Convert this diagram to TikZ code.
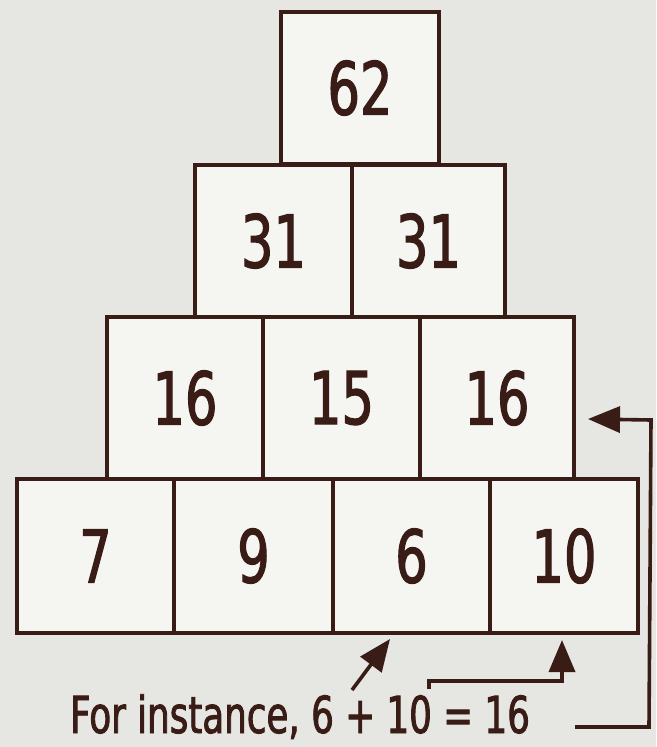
\documentclass[tikz,border=0pt]{standalone}
\usepackage{fontspec}
\setmainfont[FakeStretch=0.70,FakeBold=1.6]{DejaVu Sans}
\usetikzlibrary{arrows.meta}
\definecolor{ink}{HTML}{3A1C17}
\definecolor{paper}{HTML}{E6E6E2}
\definecolor{boxfill}{HTML}{F5F5F2}
\begin{document}
\begin{tikzpicture}[x=1pt,y=-1pt,
  cell/.style 2 args={draw=ink, fill=boxfill, line width=3.6pt, outer sep=0pt,
    minimum width=#1pt, minimum height=#2pt, inner sep=0pt, text=ink,
    font=\fontsize{73}{73}\selectfont},
  conn/.style={draw=ink, line width=3.6pt, -{Triangle[length=32pt,width=26pt]}}]
\fill[paper] (0,0) rectangle (656,747);
% row 1
\node[cell={158}{152}] (top) at (360,88) {62};
% row 2
\node[cell={157}{152}] (m1) at (273.5,241) {31};
\node[cell={153}{152}] (m2) at (428.5,241) {31};
% row 3
\node[cell={156}{162}] (t1) at (185,398) {16};
\node[cell={157}{162}] (t2) at (341.5,398) {15};
\node[cell={154}{162}] (t3) at (497,398) {16};
% row 4
\node[cell={157}{154}] (b1) at (95.5,556) {7};
\node[cell={159}{154}] (b2) at (253.5,556) {9};
\node[cell={157}{154}] (b3) at (411.5,556) {6};
\node[cell={148}{154}] (b4) at (564,556) {10};
% note
\node[text=ink, font=\fontsize{51}{51}\selectfont, anchor=base, inner sep=0pt, text depth=0pt] (note) at (300,733) {For instance, 6 + 10 = 16};
% connector ends
\coordinate (d0) at (352,690);
\coordinate (d1) at (390,639);
\coordinate (e0) at (429,689);
\coordinate (e1) at (429,681);
\coordinate (e2) at (562,681);
\coordinate (e3) at (562,640);
\coordinate (f0) at (575,727);
\coordinate (f1) at (649,727);
\coordinate (f2) at (651,420);
\coordinate (f3) at (588,419);
\draw[conn] (d0) -- (d1);
\draw[conn] (e0) -- (e1) -- (e2) -- (e3);
\draw[conn] (f0) -- (f1) -- (f2) -- (f3);
\end{tikzpicture}
\end{document}
